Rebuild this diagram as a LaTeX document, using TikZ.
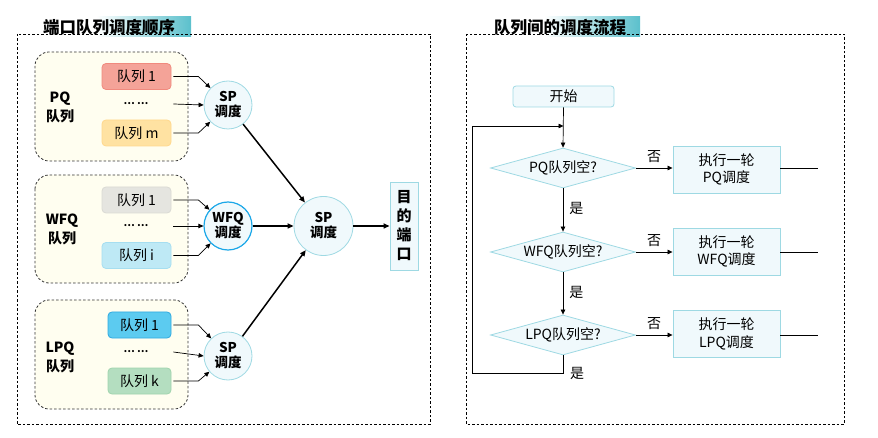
\documentclass[tikz,border=0pt]{standalone}
\usepackage{fontspec}
\setmainfont{Noto Sans CJK SC}
\usetikzlibrary{arrows.meta,shapes.geometric,calc}
\definecolor{tealc}{HTML}{5BC0CC}
\definecolor{cream}{HTML}{FFFEF0}
\definecolor{palefill}{HTML}{F0F9FC}
\definecolor{paleline}{HTML}{9ED9E3}
\definecolor{wfqline}{HTML}{1AA7E8}
\pgfdeclarehorizontalshading{titleband}{100bp}{color(0bp)=(white); color(25bp)=(white); color(45bp)=(white); color(75bp)=(tealc); color(100bp)=(tealc)}
\tikzset{
  frame/.style={draw=black, dash pattern=on 2.5pt off 2pt, line width=0.8pt},
  group/.style={draw=black!80, dash pattern=on 2.5pt off 2pt, line width=0.8pt, fill=cream, rounded corners=14pt},
  qbox/.style={rounded corners=4pt, minimum width=69pt, minimum height=26pt, inner sep=0pt, font=\fontsize{14}{16}\selectfont, line width=0.8pt},
  sched/.style={circle, draw=paleline, fill=palefill, line width=0.8pt, minimum size=48pt, inner sep=0pt, align=center, font=\bfseries\fontsize{13.5}{15}\selectfont},
  glabel/.style={align=center, font=\bfseries\fontsize{14}{19}\selectfont},
  dots/.style={font=\bfseries\fontsize{10}{12}\selectfont, inner sep=0pt},
  title/.style={anchor=west, inner sep=0pt, font=\bfseries\fontsize{16.5}{18}\selectfont},
  farr/.style={-{Triangle[length=5pt,width=4.5pt]}, line width=0.7pt},
  barr/.style={-{Triangle[length=6pt,width=5pt]}, line width=1.5pt},
  dia/.style={diamond, shape aspect=3.6, draw=paleline, fill=palefill, line width=0.8pt, minimum width=145pt, minimum height=40pt, inner sep=0pt, font=\fontsize{14}{16}\selectfont},
  proc/.style={draw=paleline, fill=palefill, line width=0.9pt, minimum width=107pt, minimum height=47pt, inner sep=0pt, align=center, font=\fontsize{14}{17.5}\selectfont},
  lbl/.style={font=\fontsize{14}{16}\selectfont, inner sep=0pt},
  line/.style={line width=0.7pt}
}
\begin{document}
\begin{tikzpicture}[x=1pt,y=-1pt]
\useasboundingbox (0,0) rectangle (878,438);
% ---------------- Left panel ----------------
\shade[shading=titleband] (33,17) rectangle (191,37);
\node[title] (t1) at (43,27) {端口队列调度顺序};
\draw[frame] (17,34) rectangle (430,424);

\draw[group] (35,52) rectangle (188,161);
\draw[group] (35,175) rectangle (188,283);
\draw[group] (35,300) rectangle (188,409);

\node[glabel] (gpq) at (60,107) {PQ\\队列};
\node[glabel] (gwfq) at (62,229) {WFQ\\队列};
\node[glabel] (glpq) at (60,357) {LPQ\\队列};

% PQ queues
\node[qbox, draw={rgb,255:red,240;green,138;blue,126}, fill={rgb,255:red,244;green,163;blue,152}] (p1) at (136.5,76.5) {队列 1};
\node[dots] (pd) at (136,104) {… …};
\node[qbox, draw={rgb,255:red,255;green,216;blue,140}, fill={rgb,255:red,255;green,226;blue,162}] (pm) at (136.5,133) {队列 m};
% WFQ queues
\node[qbox, draw={rgb,255:red,218;green,218;blue,212}, fill={rgb,255:red,229;green,229;blue,224}] (w1) at (136.5,200) {队列 1};
\node[dots] (wd) at (136,226) {… …};
\node[qbox, draw={rgb,255:red,166;green,222;blue,240}, fill={rgb,255:red,190;green,233;blue,245}] (wi) at (136.5,255.5) {队列 i};
% LPQ queues
\node[qbox, minimum width=63pt, draw={rgb,255:red,47;green,169;blue,224}, fill={rgb,255:red,92;green,203;blue,240}] (l1) at (139.5,325) {队列 1};
\node[dots] (ld) at (136,352) {… …};
\node[qbox, minimum width=63pt, draw={rgb,255:red,160;green,212;blue,174}, fill={rgb,255:red,180;green,222;blue,192}] (lk) at (139.5,381) {队列 k};

% schedulers
\node[sched] (sp1) at (228,105) {SP\\调度};
\node[sched, draw=wfqline, line width=1.2pt] (wfq) at (228,226) {WFQ\\调度};
\node[sched] (sp3) at (228,356) {SP\\调度};
\node[sched, minimum size=59pt] (spm) at (323.5,226) {SP\\调度};
\node[draw=paleline, fill=palefill, line width=0.9pt, minimum width=28pt, minimum height=88pt, inner sep=0pt, align=center, font=\bfseries\fontsize{15}{19}\selectfont] (dst) at (404,226) {目\\的\\端\\口};

% queue arrows
\foreach \q/\s in {p1/sp1, pm/sp1, w1/wfq, wi/wfq, l1/sp3, lk/sp3}{
  \draw[farr] ([xshift=2pt]\q.east) -- ([xshift=27pt]\q.east) -- (\s);
}
\draw[farr] ([xshift=2pt]pd.east -| p1.east) -- (sp1.west);
\draw[farr] ([xshift=2pt]wd.east -| w1.east) -- (wfq.west);
\draw[farr] ([xshift=2pt]ld.east -| l1.east) -- (sp3.west);

\draw[barr] (sp1) -- (spm);
\draw[barr] (wfq) -- (spm);
\draw[barr] (sp3) -- (spm);
\draw[barr] (spm) -- (dst);

% ---------------- Right panel ----------------
\shade[shading=titleband] (480,17) rectangle (640,37);
\node[title] (t2) at (494,27) {队列间的调度流程};
\draw[frame] (466,34) rectangle (844,424);

\node[draw=paleline, fill=palefill, line width=0.8pt, rounded corners=3pt, minimum width=101pt, minimum height=21pt, inner sep=0pt, font=\fontsize{14}{16}\selectfont] (start) at (563.5,96.5) {开始};
\node[dia] (d1) at (563,168) {PQ队列空?};
\node[dia] (d2) at (563,252) {WFQ队列空?};
\node[dia] (d3) at (563,335) {LPQ队列空?};
\node[proc] (r1) at (726.5,169.5) {执行一轮\\PQ调度};
\node[proc] (r2) at (726.5,251.5) {执行一轮\\WFQ调度};
\node[proc] (r3) at (726.5,334) {执行一轮\\LPQ调度};

\coordinate (lt) at (472,126);
\coordinate (lb) at (472,373);
\coordinate (rx) at (818,0);

\draw[farr] (start.south) -- (d1.north);
\draw[farr] (d1.south) -- node[lbl, right=6pt, pos=0.47] {是} (d2.north);
\draw[farr] (d2.south) -- node[lbl, right=6pt, pos=0.47] {是} (d3.north);
\draw[line] (d3.south) |- (lb);
\node[lbl] (y3) at (577,373) {是};
\draw[farr] (lb) -- (lt) -- (lt -| start.south);

\foreach \d/\r in {d1/r1, d2/r2, d3/r3}{
  \draw[farr] (\d.east) -- node[lbl, above=5pt] {否} (\r.west |- \d.east);
  \draw[line] (\r.east |- \d.east) -- (rx |- \d.east);
}
\end{tikzpicture}
\end{document}
